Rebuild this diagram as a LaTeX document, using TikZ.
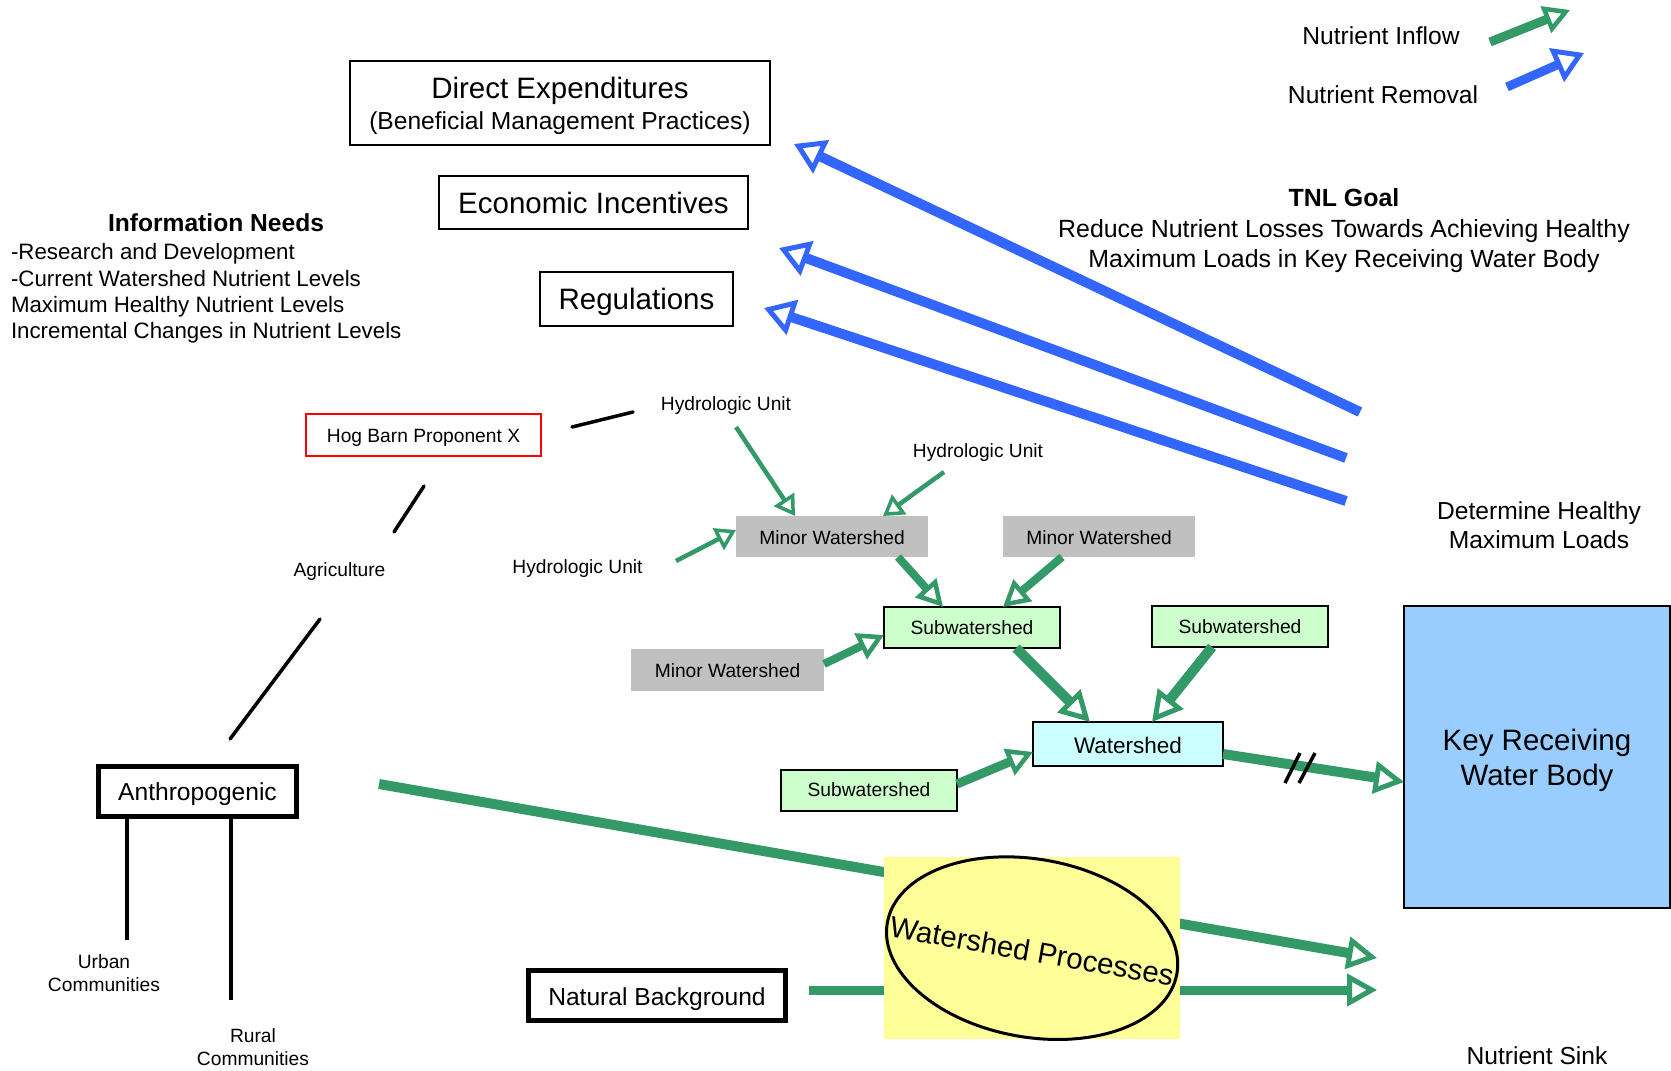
\documentclass[tikz,border=0pt]{standalone}
\usepackage{fontspec}
\setmainfont{Liberation Sans}
\usetikzlibrary{arrows.meta,shapes.geometric}
\definecolor{gr}{RGB}{51,153,102}
\definecolor{bl}{RGB}{51,102,255}
\definecolor{mwgray}{RGB}{192,192,192}
\definecolor{subgreen}{RGB}{204,255,204}
\definecolor{wscyan}{RGB}{204,255,255}
\definecolor{keyblue}{RGB}{153,204,255}
\definecolor{wpyellow}{RGB}{255,255,153}
\newcommand\txtbig{\fontsize{29.5}{35}\selectfont}
\newcommand\txtmed{\fontsize{24.6}{29}\selectfont}
\newcommand\txtsmall{\fontsize{19.2}{23}\selectfont}
\newcommand\lowr[2]{\raisebox{-#1pt}[\height][\depth]{#2}}
\begin{document}
\begin{tikzpicture}[x=1pt,y=-1pt,
  every node/.style={inner sep=0pt, outer sep=0pt, text=black},
  box/.style={draw=black, line width=1.6pt, fill=white},
  heavybox/.style={draw=black, line width=5pt, fill=white, font=\txtmed},
  mwbox/.style={fill=mwgray, minimum width=192pt, minimum height=41pt, font=\txtsmall},
  subbox/.style={draw=black, line width=2pt, fill=subgreen, minimum width=176pt, minimum height=41pt, font=\txtsmall},
  lbl/.style={font=\txtsmall},
  blk/.style={draw=black, line width=3.5pt, line cap=round},
  gA/.style={draw=gr, line width=4.5pt, -{Triangle[open, length=20pt, width=24pt, line width=3.5pt]}},
  gB/.style={draw=gr, line width=8pt, -{Triangle[open, length=26pt, width=28pt, line width=4.5pt]}},
  gC/.style={draw=gr, line width=10pt, -{Triangle[open, length=30pt, width=32pt, line width=5pt]}},
  bA/.style={draw=bl, line width=10pt, -{Triangle[open, length=30pt, width=36pt, line width=5pt]}}
]
\useasboundingbox (0,0) rectangle (1671,1071);
\fill[white] (0,0) rectangle (1671,1071);

% ---- legend ----
\node[font=\txtmed] (leginT) at (1381,36) {Nutrient Inflow};
\node[font=\txtmed] (legoutT) at (1383,95) {Nutrient Removal};
\coordinate (legin1) at (1490,42);
\coordinate (legin2) at (1570,10);
\coordinate (legout1) at (1507,87);
\coordinate (legout2) at (1584,53);
\draw[gB, line width=9pt] (legin1) -- (legin2);
\draw[bA, line width=9pt] (legout1) -- (legout2);

% ---- top boxes ----
\node[box, minimum width=420pt, minimum height=84pt] (direct) at (560,103) {};
\node[font=\txtbig] (directT) at (560,90.5) {Direct Expenditures};
\node[font=\txtmed] (directS) at (560,123) {(Beneficial Management Practices)};
\node[box, minimum width=309pt, minimum height=53pt, font=\txtbig] (econ) at (593.5,202.5) {Economic Incentives};
\node[box, minimum width=193pt, minimum height=54pt, font=\txtbig] (reg) at (636.5,299) {\lowr{3}{Regulations}};

% ---- information needs ----
\node[font=\fontsize{24.6}{29}\selectfont\bfseries] (info) at (216,223) {Information Needs};
\node[anchor=west, align=left, font=\fontsize{22.3}{26.2}\selectfont] (infolist) at (11,293.5) {-Research and Development\\-Current Watershed Nutrient Levels\\Maximum Healthy Nutrient Levels\\Incremental Changes in Nutrient Levels};

% ---- TNL goal ----
\node[align=center, font=\fontsize{24.9}{30.5}\selectfont] (tnl) at (1344,231) {\textbf{TNL Goal}\\Reduce Nutrient Losses Towards Achieving Healthy\\Maximum Loads in Key Receiving Water Body};

% ---- blue removal arrows ----
\coordinate (b1s) at (1360,412); \coordinate (b1e) at (794,144);
\coordinate (b2s) at (1346,458); \coordinate (b2e) at (779,248);
\coordinate (b3s) at (1346,501); \coordinate (b3e) at (764,308);
\draw[bA] (b1s) -- (b1e);
\draw[bA] (b2s) -- (b2e);
\draw[bA] (b3s) -- (b3e);

% ---- hog barn, agriculture, anthropogenic ----
\node[draw=red, line width=2.2pt, minimum width=235pt, minimum height=42pt, font=\txtsmall] (hog) at (423.5,435) {\lowr{3}{Hog Barn Proponent X}};
\node[lbl] (agri) at (339.5,572) {Agriculture};
\node[heavybox, minimum width=198pt, minimum height=50pt] (anth) at (197.5,791.5) {\lowr{3}{Anthropogenic}};
\node[lbl, align=center] (urban) at (104,973) {Urban\\Communities};
\node[lbl, align=center] (rural) at (253,1047) {Rural\\Communities};
\coordinate (hA) at (572,427); \coordinate (hB) at (633,412);
\coordinate (aA) at (424,486); \coordinate (aB) at (394,532);
\coordinate (cA) at (320,619); \coordinate (cB) at (230,739);
\coordinate (uB) at (127,940); \coordinate (rB) at (231,1000);
\draw[blk] (hA) -- (hB);
\draw[blk] (aA) -- (aB);
\draw[blk] (cA) -- (cB);
\draw[draw=black, line width=3.5pt] (anth.south -| uB) -- (uB);
\draw[draw=black, line width=3.5pt] (anth.south -| rB) -- (rB);

% ---- hydrologic units and watersheds ----
\node[lbl] (hu1) at (726,405.5) {Hydrologic Unit};
\node[lbl] (hu2) at (978,453) {Hydrologic Unit};
\node[lbl] (hu3) at (577.5,569) {Hydrologic Unit};
\node[mwbox] (mw1) at (832,536.5) {\lowr{1}{Minor Watershed}};
\node[mwbox] (mw2) at (1099,536.5) {\lowr{1}{Minor Watershed}};
\node[mwbox, minimum width=193pt, minimum height=42pt] (mw3) at (727.5,670) {\lowr{1}{Minor Watershed}};
\node[subbox] (sub1) at (972,627.5) {Subwatershed};
\node[subbox] (sub2) at (1240,626.5) {Subwatershed};
\node[subbox] (sub3) at (869,790) {Subwatershed};
\node[draw=black, line width=2pt, fill=wscyan, minimum width=190pt, minimum height=44pt, font=\fontsize{22.5}{26}\selectfont] (ws) at (1128,744) {\lowr{1}{Watershed}};
\node[draw=black, line width=2pt, fill=keyblue, minimum width=266pt, minimum height=302pt] (key) at (1537,757) {};
\node[align=center, font=\txtbig] (keyT) at (1537,760.5) {Key Receiving\\Water Body};
\node[align=center, font=\txtmed] (det) at (1539,525) {Determine Healthy\\Maximum Loads};
\node[font=\txtmed] (sink) at (1537,1056) {Nutrient Sink};

\coordinate (hu1s) at (736,427);
\coordinate (hu2s) at (944,472);
\coordinate (hu3s) at (676,561);
\draw[gA] (hu1s) -- ([xshift=-37pt]mw1.north);
\draw[gA] (hu2s) -- ([xshift=51pt]mw1.north);
\draw[gA] (hu3s) -- ([yshift=6.5pt]mw1.west);
\draw[gB] ([xshift=66pt]mw1.south) -- ([xshift=-29pt]sub1.north);
\draw[gB] ([xshift=-37pt]mw2.south) -- ([xshift=31pt]sub1.north);
\draw[gB] ([yshift=6pt]mw3.east) -- ([yshift=-7.5pt]sub1.west);
\draw[gC] ([xshift=44pt]sub1.south) -- ([xshift=-38pt]ws.north);
\draw[gC] ([xshift=-28pt]sub2.south) -- ([xshift=24pt]ws.north);
\draw[gB, line width=9pt] ([yshift=6pt]sub3.east) -- ([yshift=-8pt]ws.west);
\draw[gC] ([yshift=-10pt]ws.east) -- ([yshift=-25pt]key.west);
% break marks
\coordinate (k1a) at (1285,783); \coordinate (k1b) at (1300,753);
\coordinate (k2a) at (1299,783); \coordinate (k2b) at (1315,753);
\draw[draw=black, line width=3.5pt] (k1a) -- (k1b);
\draw[draw=black, line width=3.5pt] (k2a) -- (k2b);

% ---- watershed processes ----
\node[heavybox, minimum width=257pt, minimum height=50pt] (nb) at (657,995.5) {\lowr{4}{Natural Background}};
\coordinate (anS) at (379,784);
\coordinate (sink1) at (1377,958);
\coordinate (nbS) at (809,990);
\coordinate (sink2) at (1377,990);
\draw[gC] (anS) -- (sink1);
\draw[gC, line width=9pt] (nbS) -- (sink2);
\node[fill=wpyellow, minimum width=296pt, minimum height=182pt] (wpbg) at (1032,948) {};
\draw[draw=black, line width=3pt, rotate around={-10:(wpbg.center)}] (wpbg.center) ellipse [x radius=147, y radius=89];
\node[rotate=-10, font=\txtbig] (wp) at (1032,951) {Watershed Processes};
\end{tikzpicture}
\end{document}
